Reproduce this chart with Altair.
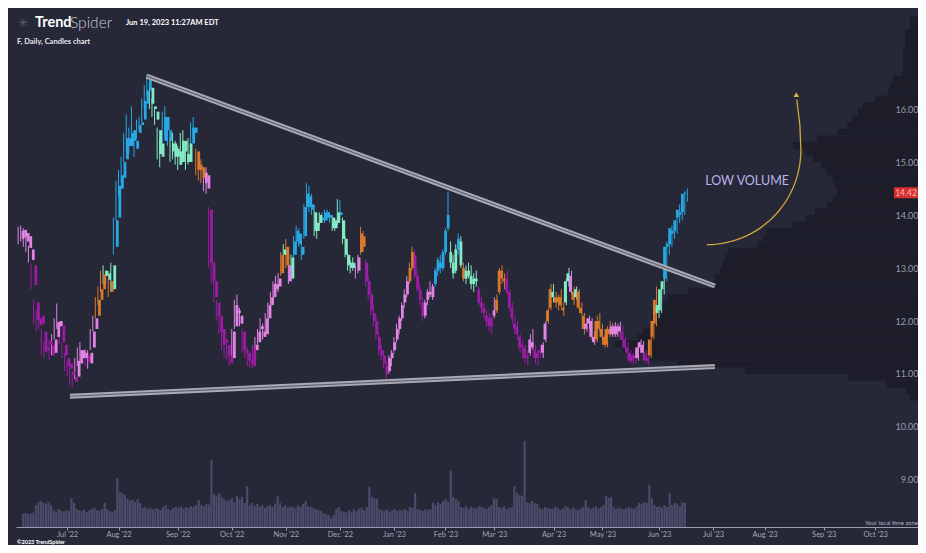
import altair as alt
import numpy as np
import pandas as pd

# ---------------- data (trading-day index 0 = 2022-06-01) ----------------
FIRST_INDEX = 2  # first candle: 2022-06-03

OPEN = [
    13.55, 13.72, 13.50, 13.60, 13.35, 13.05, 12.35, 12.05, 11.95, 11.80, 11.45, 11.55, 11.55, 11.40, 11.70, 12.00, 11.92, 11.55, 11.30,  # Jun 22
    11.10, 11.05, 10.95, 10.95, 11.20, 11.45, 11.30, 11.35, 11.20, 11.50, 11.85, 12.10, 12.40, 12.60, 12.85, 12.90, 12.75, 12.60, 13.40, 13.95,  # Jul 22
    14.50, 14.70, 15.05, 15.45, 15.30, 15.60, 15.40, 15.55, 15.70, 15.80, 16.10, 16.35, 16.40, 16.05, 15.95, 15.60, 15.10, 15.40, 15.85, 15.60, 15.20, 15.35, 15.10,  # Aug 22
    15.20, 15.00, 15.40, 15.15, 15.00, 15.35, 15.65, 15.20, 14.85, 14.90, 14.60, 14.75, 14.10, 13.10, 12.75, 12.35, 12.10, 11.85, 11.60, 11.55, 11.35,  # Sep 22
    11.30, 11.90, 12.20, 12.10, 11.80, 11.45, 11.40, 11.25, 11.15, 11.55, 11.60, 11.90, 11.80, 11.75, 12.05, 12.30, 12.45, 12.70, 12.65, 12.90, 13.25,  # Oct 22
    13.40, 13.05, 12.80, 13.25, 13.50, 13.65, 13.40, 13.60, 14.15, 14.35, 14.20, 14.05, 13.70, 13.85, 13.95, 13.90, 14.05, 13.95, 13.95, 13.75, 13.85,  # Nov 22
    14.05, 13.90, 13.55, 13.25, 13.00, 13.10, 12.95, 12.95, 13.30, 13.60, 13.10, 12.75, 12.50, 12.15, 12.00, 11.70, 11.45, 11.35, 11.15, 11.05, 11.30,  # Dec 22
    11.45, 11.65, 11.85, 12.05, 12.35, 12.50, 12.75, 13.00, 13.25, 12.85, 12.60, 12.35, 12.10, 12.40, 12.55, 12.45, 12.70, 12.95, 13.10, 13.00,  # Jan 23
    13.30, 13.75, 13.30, 13.10, 12.95, 13.35, 13.50, 13.00, 12.80, 12.95, 12.85, 12.70, 12.80, 12.60, 12.35, 12.25, 12.10, 12.05, 11.90,  # Feb 23
    12.10, 12.20, 12.55, 12.95, 12.80, 12.80, 12.55, 12.25, 11.95, 11.90, 11.70, 11.50, 11.50, 11.30, 11.40, 11.60, 11.45, 11.30, 11.40, 11.40, 11.65, 12.00, 12.25,  # Mar 23
    12.55, 12.45, 12.35, 12.45, 12.25, 12.35, 12.75, 12.85, 12.55, 12.45, 12.55, 12.25, 12.10, 11.85, 11.95, 12.00, 11.70, 11.65, 12.00,  # Apr 23
    11.85, 11.70, 11.55, 11.85, 11.75, 11.90, 11.75, 11.90, 11.80, 11.65, 11.50, 11.40, 11.25, 11.35, 11.30, 11.50, 11.55, 11.40, 11.25, 11.35, 11.70, 11.95,  # May 23
    12.30, 12.20, 12.60, 12.80, 13.40, 13.45, 13.70, 13.70, 13.95, 14.05, 14.05, 14.40,  # Jun 23
]
HIGH = [
    13.78, 13.80, 13.75, 13.68, 13.42, 13.08, 12.40, 12.20, 12.25, 11.85, 11.60, 11.70, 11.65, 11.75, 12.05, 12.33, 12.00, 11.60, 11.40,
    11.25, 11.15, 11.05, 11.30, 11.50, 11.60, 11.45, 11.48, 11.45, 11.85, 12.10, 12.45, 12.65, 12.95, 13.05, 12.95, 12.80, 13.10, 13.95, 14.65,
    14.85, 15.10, 15.55, 15.90, 15.65, 16.05, 15.60, 15.80, 15.85, 16.20, 16.45, 16.65, 16.50, 16.20, 16.00, 15.65, 15.45, 15.95, 16.05, 15.75, 15.45, 15.55, 15.40,
    15.30, 15.55, 15.60, 15.30, 15.45, 15.75, 15.85, 15.25, 15.10, 15.05, 14.90, 14.90, 14.15, 13.30, 12.85, 12.40, 12.25, 12.00, 11.80, 11.65, 11.45,
    11.85, 12.40, 12.50, 12.25, 11.85, 11.60, 11.50, 11.40, 11.55, 11.70, 11.85, 12.05, 11.95, 12.15, 12.35, 12.55, 12.75, 12.85, 12.90, 13.30, 13.45,
    13.55, 13.20, 13.25, 13.60, 13.80, 13.75, 13.50, 14.20, 14.60, 14.55, 14.40, 14.10, 13.90, 14.05, 14.05, 14.10, 14.10, 14.05, 14.00, 13.95, 14.30,
    14.28, 13.95, 13.60, 13.30, 13.15, 13.20, 13.05, 13.25, 13.78, 13.70, 13.15, 12.85, 12.55, 12.30, 12.10, 11.80, 11.55, 11.45, 11.25, 11.35, 11.45,
    11.70, 11.95, 12.10, 12.35, 12.60, 12.85, 13.10, 13.40, 13.35, 12.95, 12.70, 12.45, 12.40, 12.60, 12.75, 12.70, 13.00, 13.20, 13.25, 13.35,
    13.75, 14.44, 13.50, 13.25, 13.45, 13.65, 13.60, 13.10, 13.05, 13.10, 13.05, 12.90, 12.95, 12.65, 12.45, 12.35, 12.20, 12.15, 12.10,
    12.45, 12.50, 13.00, 13.05, 12.90, 12.95, 12.60, 12.35, 12.10, 12.00, 11.75, 11.65, 11.55, 11.45, 11.75, 11.85, 11.55, 11.45, 11.55, 11.60, 12.00, 12.25, 12.70,
    12.70, 12.55, 12.50, 12.60, 12.35, 12.80, 13.00, 12.95, 12.65, 12.65, 12.60, 12.35, 12.15, 12.05, 12.10, 12.05, 11.80, 12.10, 12.15,
    11.95, 11.75, 11.90, 12.00, 11.95, 11.98, 11.95, 11.98, 11.90, 11.70, 11.60, 11.45, 11.40, 11.45, 11.55, 11.65, 11.62, 11.45, 11.35, 11.70, 12.10, 12.65,
    12.40, 12.70, 12.90, 13.50, 13.50, 13.80, 13.85, 13.95, 14.20, 14.15, 14.45, 14.50,
]
LOW = [
    13.45, 13.50, 13.40, 13.30, 13.10, 12.60, 11.95, 11.80, 11.85, 11.35, 11.30, 11.40, 11.25, 11.35, 11.65, 11.85, 11.55, 11.30, 11.05,
    10.95, 10.80, 10.75, 10.90, 11.15, 11.25, 11.20, 11.15, 11.10, 11.45, 11.80, 12.05, 12.30, 12.55, 12.70, 12.70, 12.45, 12.55, 13.25, 13.90,
    14.35, 14.60, 15.00, 15.20, 15.15, 15.30, 15.10, 15.45, 15.60, 15.75, 16.00, 16.25, 16.00, 15.85, 15.70, 15.05, 14.90, 15.35, 15.50, 15.30, 15.00, 15.05, 14.95,
    14.85, 14.95, 15.10, 14.85, 14.95, 15.30, 15.45, 14.75, 14.65, 14.60, 14.45, 14.40, 13.00, 12.70, 12.35, 12.00, 11.75, 11.45, 11.30, 11.25, 11.15,
    11.25, 11.85, 12.00, 11.90, 11.40, 11.30, 11.15, 11.12, 11.10, 11.40, 11.55, 11.70, 11.65, 11.70, 12.00, 12.20, 12.40, 12.50, 12.55, 12.85, 13.10,
    13.00, 12.70, 12.75, 13.20, 13.45, 13.40, 13.15, 13.55, 14.05, 14.05, 14.00, 13.60, 13.55, 13.80, 13.85, 13.85, 13.90, 13.85, 13.70, 13.70, 13.80,
    13.90, 13.45, 13.20, 12.95, 12.90, 12.95, 12.80, 12.90, 13.25, 13.30, 12.65, 12.40, 12.10, 11.90, 11.65, 11.35, 11.25, 11.10, 10.90, 11.00, 11.15,
    11.40, 11.60, 11.75, 12.00, 12.25, 12.45, 12.70, 12.95, 12.80, 12.55, 12.30, 12.00, 12.05, 12.30, 12.45, 12.40, 12.65, 12.85, 12.90, 12.95,
    13.25, 13.70, 13.00, 12.80, 12.90, 13.25, 13.00, 12.75, 12.70, 12.80, 12.60, 12.55, 12.65, 12.30, 12.15, 12.05, 11.90, 11.80, 11.75,
    12.05, 12.15, 12.50, 12.70, 12.60, 12.50, 12.20, 11.95, 11.75, 11.65, 11.40, 11.30, 11.20, 11.15, 11.35, 11.45, 11.20, 11.15, 11.30, 11.30, 11.60, 11.95, 12.20,
    12.35, 12.25, 12.20, 12.25, 12.10, 12.30, 12.65, 12.50, 12.30, 12.40, 12.20, 12.10, 11.75, 11.80, 11.85, 11.65, 11.55, 11.60, 11.80,
    11.65, 11.50, 11.50, 11.70, 11.70, 11.70, 11.70, 11.75, 11.60, 11.45, 11.35, 11.20, 11.18, 11.20, 11.25, 11.40, 11.35, 11.20, 11.15, 11.30, 11.65, 11.90,
    12.05, 12.15, 12.50, 12.75, 13.25, 13.40, 13.55, 13.65, 13.85, 13.90, 14.00, 14.25,
]
CLOSE = [
    13.70, 13.58, 13.66, 13.38, 13.15, 12.68, 12.02, 11.92, 12.10, 11.42, 11.50, 11.62, 11.35, 11.65, 11.98, 11.90, 11.60, 11.35, 11.15,
    11.20, 10.98, 10.85, 11.25, 11.45, 11.30, 11.40, 11.22, 11.40, 11.80, 12.05, 12.40, 12.60, 12.88, 12.95, 12.78, 12.55, 13.05, 13.90, 14.55,
    14.75, 15.00, 15.45, 15.30, 15.55, 15.40, 15.25, 15.70, 15.75, 16.15, 16.35, 16.55, 16.10, 16.00, 15.80, 15.15, 15.35, 15.85, 15.60, 15.40, 15.35, 15.10, 15.25,
    14.95, 15.40, 15.20, 15.00, 15.35, 15.65, 15.55, 14.85, 14.95, 14.70, 14.80, 14.50, 13.10, 12.75, 12.45, 12.10, 11.80, 11.55, 11.65, 11.35, 11.20,
    11.80, 12.30, 12.15, 11.95, 11.45, 11.40, 11.25, 11.20, 11.50, 11.45, 11.80, 11.85, 11.70, 12.05, 12.30, 12.45, 12.70, 12.60, 12.80, 13.25, 13.35,
    13.05, 12.75, 13.20, 13.50, 13.70, 13.45, 13.25, 14.15, 14.40, 14.15, 14.10, 13.70, 13.85, 14.00, 13.90, 14.05, 13.95, 14.00, 13.75, 13.90, 14.05,
    14.00, 13.55, 13.25, 13.05, 13.10, 13.00, 12.95, 13.20, 13.65, 13.40, 12.75, 12.50, 12.20, 12.00, 11.75, 11.45, 11.35, 11.20, 11.00, 11.30, 11.40,
    11.60, 11.85, 12.05, 12.30, 12.50, 12.75, 13.00, 13.30, 12.85, 12.60, 12.40, 12.10, 12.35, 12.55, 12.50, 12.65, 12.95, 13.15, 13.00, 13.30,
    13.70, 14.00, 13.10, 12.90, 13.35, 13.55, 13.05, 12.80, 12.95, 12.85, 12.70, 12.80, 12.75, 12.35, 12.25, 12.15, 12.00, 11.90, 12.05,
    12.20, 12.40, 12.95, 12.80, 12.75, 12.55, 12.25, 12.05, 11.85, 11.75, 11.50, 11.55, 11.30, 11.35, 11.65, 11.50, 11.30, 11.40, 11.45, 11.55, 11.95, 12.20, 12.60,
    12.45, 12.35, 12.45, 12.30, 12.20, 12.75, 12.90, 12.55, 12.40, 12.60, 12.25, 12.15, 11.85, 11.95, 12.05, 11.70, 11.60, 12.00, 11.85,
    11.70, 11.55, 11.85, 11.75, 11.90, 11.75, 11.90, 11.80, 11.65, 11.50, 11.40, 11.25, 11.35, 11.30, 11.50, 11.60, 11.40, 11.25, 11.30, 11.65, 12.00, 12.40,
    12.15, 12.60, 12.75, 13.40, 13.45, 13.75, 13.65, 13.90, 14.10, 14.00, 14.40, 14.42,
]
# trend colour state per candle: B strong up, M weakening up, O neutral, P weak down, V strong down
TREND = (
    "PPPPPVVVVVVVVPPPVVV"
    "VVVPPPPVPPPOOOMMOMBB"
    "BBBBBBBBBBBBMMMMMBBBMMM"
    "MMMMMBBOOOPPVVVVVVVVV"
    "PPPPVVVVVPPPPPPPPPPOM"
    "OPMBBBBBBBBMMMBBBBMMM"
    "BMMMMMPPOOVVVVVVVVVPP"
    "PPPPPPOOVVVVPPPPBBBB"
    "BBMMMBMOMMMMMVVVVVV"
    "POOOOVVVVVVVVVPPVVVPPOO"
    "MOOOOMMPOMOOOPPPPOO"
    "OOOOPPPPVVVVVVPPPVVOOO"
    "MMMBBBBBBBBB"
)
VOLUME_M = [
    33, 35, 32, 34, 36, 55, 62, 65, 60, 58, 62, 55, 42, 38, 45, 40, 38, 42, 40,
    72, 60, 45, 42, 40, 44, 38, 42, 45, 48, 42, 40, 45, 60, 45, 40, 38, 42, 122, 88,
    85, 80, 70, 65, 68, 62, 70, 60, 48, 50, 45, 48, 44, 47, 46, 42, 50, 55, 45, 42, 48, 50, 48,
    52, 46, 50, 48, 52, 50, 55, 68, 55, 52, 58, 56, 168, 82, 78, 85, 75, 70, 65, 68, 72,
    62, 78, 70, 75, 60, 102, 55, 60, 52, 58, 50, 55, 48, 52, 55, 50, 58, 78, 60, 50, 55,
    48, 52, 50, 46, 54, 50, 58, 65, 52, 50, 48, 45, 42, 40, 35, 32, 30, 22, 30, 45, 50,
    40, 38, 36, 42, 38, 44, 40, 46, 48, 42, 50, 100, 75, 72, 70, 45, 42, 40, 44, 38, 42,
    45, 40, 43, 42, 45, 40, 50, 48, 85, 45, 42, 40, 44, 42, 45, 60, 55, 62, 58, 65,
    70, 62, 140, 75, 70, 65, 50, 48, 52, 45, 50, 48, 46, 52, 50, 48, 45, 50, 55,
    72, 70, 50, 48, 52, 45, 48, 50, 102, 85, 80, 78, 215, 62, 60, 65, 60, 58, 48, 45, 50, 48, 46,
    45, 50, 48, 42, 46, 52, 50, 44, 48, 45, 42, 47, 50, 68, 50, 45, 48, 52, 46,
    50, 55, 78, 72, 75, 50, 45, 48, 46, 44, 48, 50, 47, 45, 52, 60, 58, 62, 60, 105, 72, 55,
    50, 52, 48, 55, 50, 85, 55, 60, 58, 52, 62, 60,
]
# volume profile (volume at price), bins of 0.125 starting at 10.50
PROFILE_START = 10.5
PROFILE_STEP = 0.125
PROFILE_VOL_M = [
    32, 48, 124, 280, 692, 960, 1072, 1180, 1212, 1120,
    1100, 1072, 1064, 1052, 1032, 1000, 920, 824, 812, 792,
    784, 772, 760, 640, 620, 604, 500, 448, 412, 364,
    340, 324, 332, 340, 368, 388, 420, 452, 500, 404,
    320, 284, 264, 240, 220, 172, 120, 112, 100, 60,
    60, 60, 60, 52, 52, 52, 32, 32,
]

MONTH_INDEX = [21, 41, 64, 85, 106, 127, 148, 168, 187, 210, 229, 251, 272, 292, 315, 335]
MONTH_LABEL = ["Jul '22", "Aug '22", "Sep '22", "Oct '22", "Nov '22", "Dec '22", "Jan '23", "Feb '23",
               "Mar '23", "Apr '23", "May '23", "Jun '23", "Jul '23", "Aug '23", "Sep '23", "Oct '23"]
PRICE_TICKS = [9, 10, 11, 12, 13, 14, 15, 16]
LAST_PRICE = 14.42

# trendlines (index, price)
UPPER_LINE = {"i": [51.9, 272.7], "p": [16.62, 12.66]}
LOWER_LINE = {"i": [22.1, 272.7], "p": [10.58, 11.14]}

# ---------------- build tables ----------------
n = len(CLOSE)
assert len(OPEN) == n and len(HIGH) == n and len(LOW) == n and len(TREND) == n and len(VOLUME_M) == n
df = pd.DataFrame({
    "i": list(range(FIRST_INDEX, FIRST_INDEX + n)),
    "open": OPEN, "high": HIGH, "low": LOW, "close": CLOSE,
    "trend": list(TREND), "vol": VOLUME_M,
})
prof = pd.DataFrame({
    "lo": [PROFILE_START + PROFILE_STEP * k for k in range(len(PROFILE_VOL_M))],
    "vol": PROFILE_VOL_M,
})
prof["hi"] = prof["lo"] + PROFILE_STEP
prof["zero"] = 0

lines = pd.DataFrame({
    "i": UPPER_LINE["i"] + LOWER_LINE["i"],
    "p": UPPER_LINE["p"] + LOWER_LINE["p"],
    "line": ["upper", "upper", "lower", "lower"],
})

# annotation arrow curve (quarter ellipse, annotation geometry)
t = np.linspace(0, np.pi / 2, 30)
arc_i = list(269.6 + 36.5 * np.sin(t)) + [305.7, 304.5]
arc_p = list(15.23 - 1.79 * np.cos(t)) + [15.70, 16.18]
arc = pd.DataFrame({"i": arc_i, "p": arc_p, "o": list(range(len(arc_i)))})

W, H = 902, 519
XS = alt.Scale(domain=[1.17, 351.6], nice=False, zero=False)
YS = alt.Scale(domain=[8.113, 17.906], nice=False, zero=False)
BG = "#262737"
FONT = "Lato"

COLORS = {"B": "#27a9e6", "M": "#82ebc5", "O": "#d9792b", "P": "#e284e4", "V": "#9d1ca6"}
cscale = alt.Scale(domain=list(COLORS.keys()), range=list(COLORS.values()))

label_expr = " : ".join(f'datum.value == {k} ? "{lab}"' for k, lab in zip(MONTH_INDEX, MONTH_LABEL)) + ' : ""'

base = alt.Chart(df)

profile = alt.Chart(prof).mark_rect(color="#1c1d29", stroke="#222332", strokeWidth=0.5).encode(
    x=alt.X("zero:Q", scale=alt.Scale(domain=[0, W * 4], reverse=True, nice=False, zero=False), axis=None),
    x2="vol:Q",
    y=alt.Y("lo:Q", scale=YS, axis=None),
    y2="hi:Q",
)

volume = base.mark_bar(size=2.2, color="#4a4b6a").encode(
    x=alt.X("i:Q", scale=XS, axis=None),
    y=alt.Y("vol:Q", scale=alt.Scale(domain=[0, H * 2.5], nice=False, zero=True), axis=None),
)

wicks = base.mark_rule(strokeWidth=1).encode(
    x=alt.X("i:Q", scale=XS, title=None, axis=alt.Axis(
        values=MONTH_INDEX, labelExpr=label_expr, grid=False, domain=True, zindex=1,
        domainColor="#9a9bae", domainWidth=1, tickColor="#9a9bae", tickSize=3,
        labelColor="#a3a4b5", labelFont=FONT, labelFontSize=7.5, labelPadding=0,
        labelBaseline="top")),
    y=alt.Y("low:Q", scale=YS, title=None, axis=alt.Axis(
        orient="right", values=PRICE_TICKS, format=".2f", grid=False, domain=False, zindex=1,
        ticks=False, labelAlign="right", labelPadding=0, labelColor="#9b9cac",
        labelFont=FONT, labelFontSize=9)),
    y2="high:Q",
    color=alt.Color("trend:N", scale=cscale, legend=None),
)

bodies = base.mark_bar(size=2.8).encode(
    x=alt.X("i:Q", scale=XS, axis=None),
    y=alt.Y("open:Q", scale=YS, axis=None),
    y2="close:Q",
    color=alt.Color("trend:N", scale=cscale, legend=None),
)

tl_outer = alt.Chart(lines).mark_line(strokeWidth=5, color="#a9aab5").encode(
    x=alt.X("i:Q", scale=XS, axis=None),
    y=alt.Y("p:Q", scale=YS, axis=None),
    detail="line:N",
)
tl_inner = alt.Chart(lines).mark_line(strokeWidth=1.2, color="#5f606d").encode(
    x=alt.X("i:Q", scale=XS, axis=None),
    y=alt.Y("p:Q", scale=YS, axis=None),
    detail="line:N",
)

arrow = alt.Chart(arc).mark_line(strokeWidth=1.3, color="#d2a63c").encode(
    x=alt.X("i:Q", scale=XS, axis=None),
    y=alt.Y("p:Q", scale=YS, axis=None),
    order="o:Q",
)
head = alt.Chart(pd.DataFrame({"i": [304.3], "p": [16.27]})).mark_point(
    shape="triangle-up", filled=True, size=30, color="#e2b43a", opacity=1).encode(
    x=alt.X("i:Q", scale=XS, axis=None),
    y=alt.Y("p:Q", scale=YS, axis=None),
)
low_vol = alt.Chart(pd.DataFrame({"i": [285.2], "p": [14.64], "t": ["LOW VOLUME"]})).mark_text(
    font=FONT, fontSize=12.5, color="#bab5ea", align="center", baseline="middle").encode(
    x=alt.X("i:Q", scale=XS, axis=None),
    y=alt.Y("p:Q", scale=YS, axis=None),
    text="t:N",
)

tag_df = pd.DataFrame({"p": [LAST_PRICE], "lo": [LAST_PRICE - 0.105], "hi": [LAST_PRICE + 0.105],
                       "t": [f"{LAST_PRICE:.2f}"]})
tag_box = alt.Chart(tag_df).mark_rect(color="#d32f2f").encode(
    x=alt.value(W - 24), x2=alt.value(W),
    y=alt.Y("lo:Q", scale=YS, axis=None), y2="hi:Q",
)
tag_txt = alt.Chart(tag_df).mark_text(font=FONT, fontSize=8.5, color="#ffb3b3", align="center",
                                      baseline="middle").encode(
    x=alt.value(W - 12), y=alt.Y("p:Q", scale=YS, axis=None), text="t:N",
)


def label(text, x, y, size, color, weight="normal", align="left", font=FONT):
    return alt.Chart(pd.DataFrame({"t": [text]})).mark_text(
        font=font, fontSize=size, color=color, fontWeight=weight, align=align,
        baseline="middle").encode(
        x=alt.value(x), y=alt.value(y), text="t:N")


texts = [
    label("\u2733", 2, 15, 12, "#5d5e70", font="DejaVu Sans"),
    label("Trend", 19, 15, 14.5, "#ffffff", weight="bold"),
    label("Spider", 54, 15, 15.5, "#c9cad3", weight=300),
    label("Jun 19, 2023 11:27AM EDT", 110, 15, 7.5, "#ffffff", weight="bold"),
    label("F, Daily, Candles chart", 1, 34, 7.5, "#e6e6ee", weight="bold"),
    label("Your local time zone", W, 515, 6, "#b2b3c2", align="right"),
    label("\u00a92023 TrendSpider", 1, 534, 5.5, "#ffffff", weight="bold"),
]

chart = alt.layer(
    profile, volume, wicks, bodies, tl_outer, tl_inner, arrow, head, low_vol, tag_box, tag_txt, *texts
).resolve_scale(
    x="independent", y="independent", color="shared"
).properties(
    width=W, height=H,
    padding={"left": 8, "top": 0, "right": 0, "bottom": 18},
    autosize=alt.AutoSizeParams(type="none"),
).configure(
    background=BG
).configure_view(strokeWidth=0)

chart.save("out.html", embed_options={"renderer": "svg", "actions": False})
